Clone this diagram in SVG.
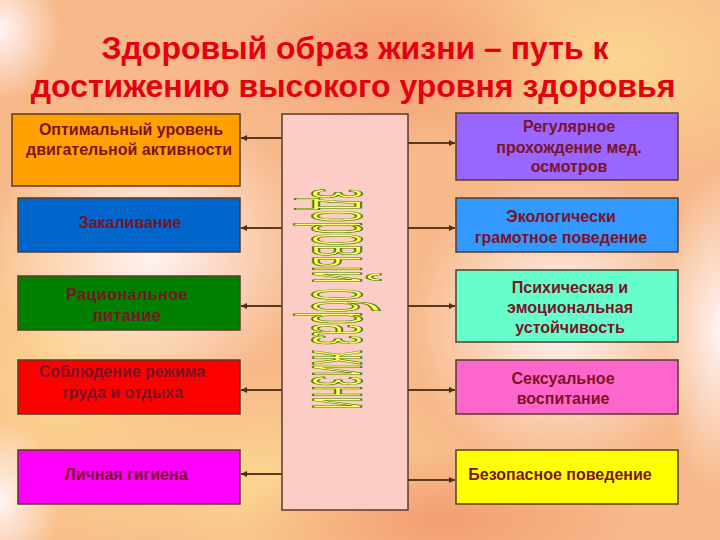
<svg xmlns="http://www.w3.org/2000/svg" width="720" height="540" viewBox="0 0 720 540">
<defs>
<radialGradient id="bgA" cx="0.5" cy="0.5" r="0.5"><stop offset="0" stop-color="#fff4f4" stop-opacity="1"/><stop offset="1" stop-color="#fff4f4" stop-opacity="0"/></radialGradient>
<radialGradient id="bgY" cx="0.5" cy="0.5" r="0.5"><stop offset="0" stop-color="#fcd890" stop-opacity="0.9"/><stop offset="1" stop-color="#fcd890" stop-opacity="0"/></radialGradient>
<radialGradient id="bgO" cx="0.5" cy="0.5" r="0.5"><stop offset="0" stop-color="#f39a70" stop-opacity="0.9"/><stop offset="1" stop-color="#f39a70" stop-opacity="0"/></radialGradient>
<marker id="ah" markerUnits="userSpaceOnUse" markerWidth="8" markerHeight="8" refX="6" refY="3" orient="auto"><path d="M0,0 L6,3 L0,6 Z" fill="#4a2e14"/></marker>
<style>
.box{stroke:#5a3a2a;stroke-width:1.5}
.t{font-family:"Liberation Sans",Arial,sans-serif;font-weight:bold;font-size:16px;fill:#7a1426;text-anchor:middle}
.title{font-family:"Liberation Sans",Arial,sans-serif;font-weight:bold;font-size:32px;fill:#e3000f;text-anchor:middle}
.c{stroke:#5a3a1e;stroke-width:2;fill:none;marker-end:url(#ah)}
</style>
</defs>
<g id="background">
<rect width="720" height="540" fill="#f7b98a"/>
<ellipse cx="620" cy="60" rx="200" ry="120" fill="url(#bgY)"/>
<ellipse cx="260" cy="480" rx="220" ry="110" fill="url(#bgY)"/>
<ellipse cx="60" cy="380" rx="160" ry="200" fill="url(#bgY)"/>
<ellipse cx="400" cy="60" rx="180" ry="90" fill="url(#bgO)"/>
<ellipse cx="440" cy="520" rx="200" ry="70" fill="url(#bgO)"/>
<ellipse cx="150" cy="250" rx="160" ry="150" fill="url(#bgA)"/>
<ellipse cx="560" cy="320" rx="150" ry="150" fill="url(#bgA)"/>
<ellipse cx="0" cy="30" rx="60" ry="70" fill="url(#bgA)"/>
<ellipse cx="720" cy="330" rx="60" ry="160" fill="url(#bgA)"/>
<ellipse cx="0" cy="500" rx="60" ry="80" fill="url(#bgA)"/>
</g>
<g id="title">
<text class="title" x="355" y="59">Здоровый образ жизни – путь к</text>
<text class="title" x="353" y="97">достижению высокого уровня здоровья</text>
</g>
<g id="connectors">
<line class="c" x1="282" y1="138" x2="241" y2="138"/>
<line class="c" x1="282" y1="228" x2="241" y2="228"/>
<line class="c" x1="282" y1="306" x2="241" y2="306"/>
<line class="c" x1="282" y1="390" x2="241" y2="390"/>
<line class="c" x1="282" y1="474" x2="241" y2="474"/>
<line class="c" x1="408" y1="143" x2="455" y2="143"/>
<line class="c" x1="408" y1="228" x2="455" y2="228"/>
<line class="c" x1="408" y1="306" x2="455" y2="306"/>
<line class="c" x1="408" y1="390" x2="455" y2="390"/>
<line class="c" x1="408" y1="480" x2="455" y2="480"/>
</g>
<g id="center">
<rect class="box" x="282" y="114" width="126" height="396" fill="#fccdc6"/>
<text transform="translate(313,189) rotate(90) scale(0.3,1)" x="0" y="0" textLength="733" lengthAdjust="spacingAndGlyphs" font-family="'Liberation Sans Narrow','Liberation Sans',sans-serif" font-size="90" fill="#ffff66" stroke="#4f8000" stroke-width="1.5" vector-effect="non-scaling-stroke">здоровый образ жизни</text>
</g>
<g id="n-activity">
<rect class="box" x="12" y="114" width="228" height="72" fill="#ffa000"/>
<text class="t" x="131" y="135">Оптимальный уровень</text>
<text class="t" x="129" y="155">двигательной активности</text>
</g>
<g id="n-hardening">
<rect class="box" x="18" y="198" width="222" height="54" fill="#0066cc"/>
<text class="t" x="130" y="228">Закаливание</text>
</g>
<g id="n-nutrition">
<rect class="box" x="18" y="276" width="222" height="54" fill="#008000"/>
<text class="t" x="127" y="300" letter-spacing="0.5" fill="#6a2a10">Рациональное</text>
<text class="t" x="127" y="321" letter-spacing="0.5" fill="#6a2a10">питание</text>
</g>
<g id="n-regime">
<rect class="box" x="18" y="360" width="222" height="54" fill="#ff0000"/>
<text class="t" x="122" y="377" fill="#9a0f10">Соблюдение режима</text>
<text class="t" x="122" y="398" fill="#9a0f10">труда и отдыха</text>
</g>
<g id="n-hygiene">
<rect class="box" x="18" y="450" width="222" height="54" fill="#ff00ff"/>
<text class="t" x="126" y="480" fill="#9a0a5a">Личная гигиена</text>
</g>
<g id="n-checkups">
<rect class="box" x="456" y="113" width="222" height="67" fill="#9966ff"/>
<text class="t" x="569" y="132">Регулярное</text>
<text class="t" x="569" y="153">прохождение мед.</text>
<text class="t" x="569" y="172">осмотров</text>
</g>
<g id="n-ecology">
<rect class="box" x="456" y="198" width="222" height="54" fill="#3399ff"/>
<text class="t" x="561" y="222">Экологически</text>
<text class="t" x="561" y="243">грамотное поведение</text>
</g>
<g id="n-psych">
<rect class="box" x="456" y="270" width="222" height="72" fill="#66ffcc"/>
<text class="t" x="570" y="293">Психическая и</text>
<text class="t" x="570" y="313">эмоциональная</text>
<text class="t" x="570" y="333">устойчивость</text>
</g>
<g id="n-sex">
<rect class="box" x="456" y="360" width="222" height="54" fill="#ff66cc"/>
<text class="t" x="563" y="384">Сексуальное</text>
<text class="t" x="563" y="404">воспитание</text>
</g>
<g id="n-safety">
<rect class="box" x="456" y="450" width="222" height="54" fill="#ffff00"/>
<text class="t" x="560" y="480">Безопасное поведение</text>
</g>
</svg>
